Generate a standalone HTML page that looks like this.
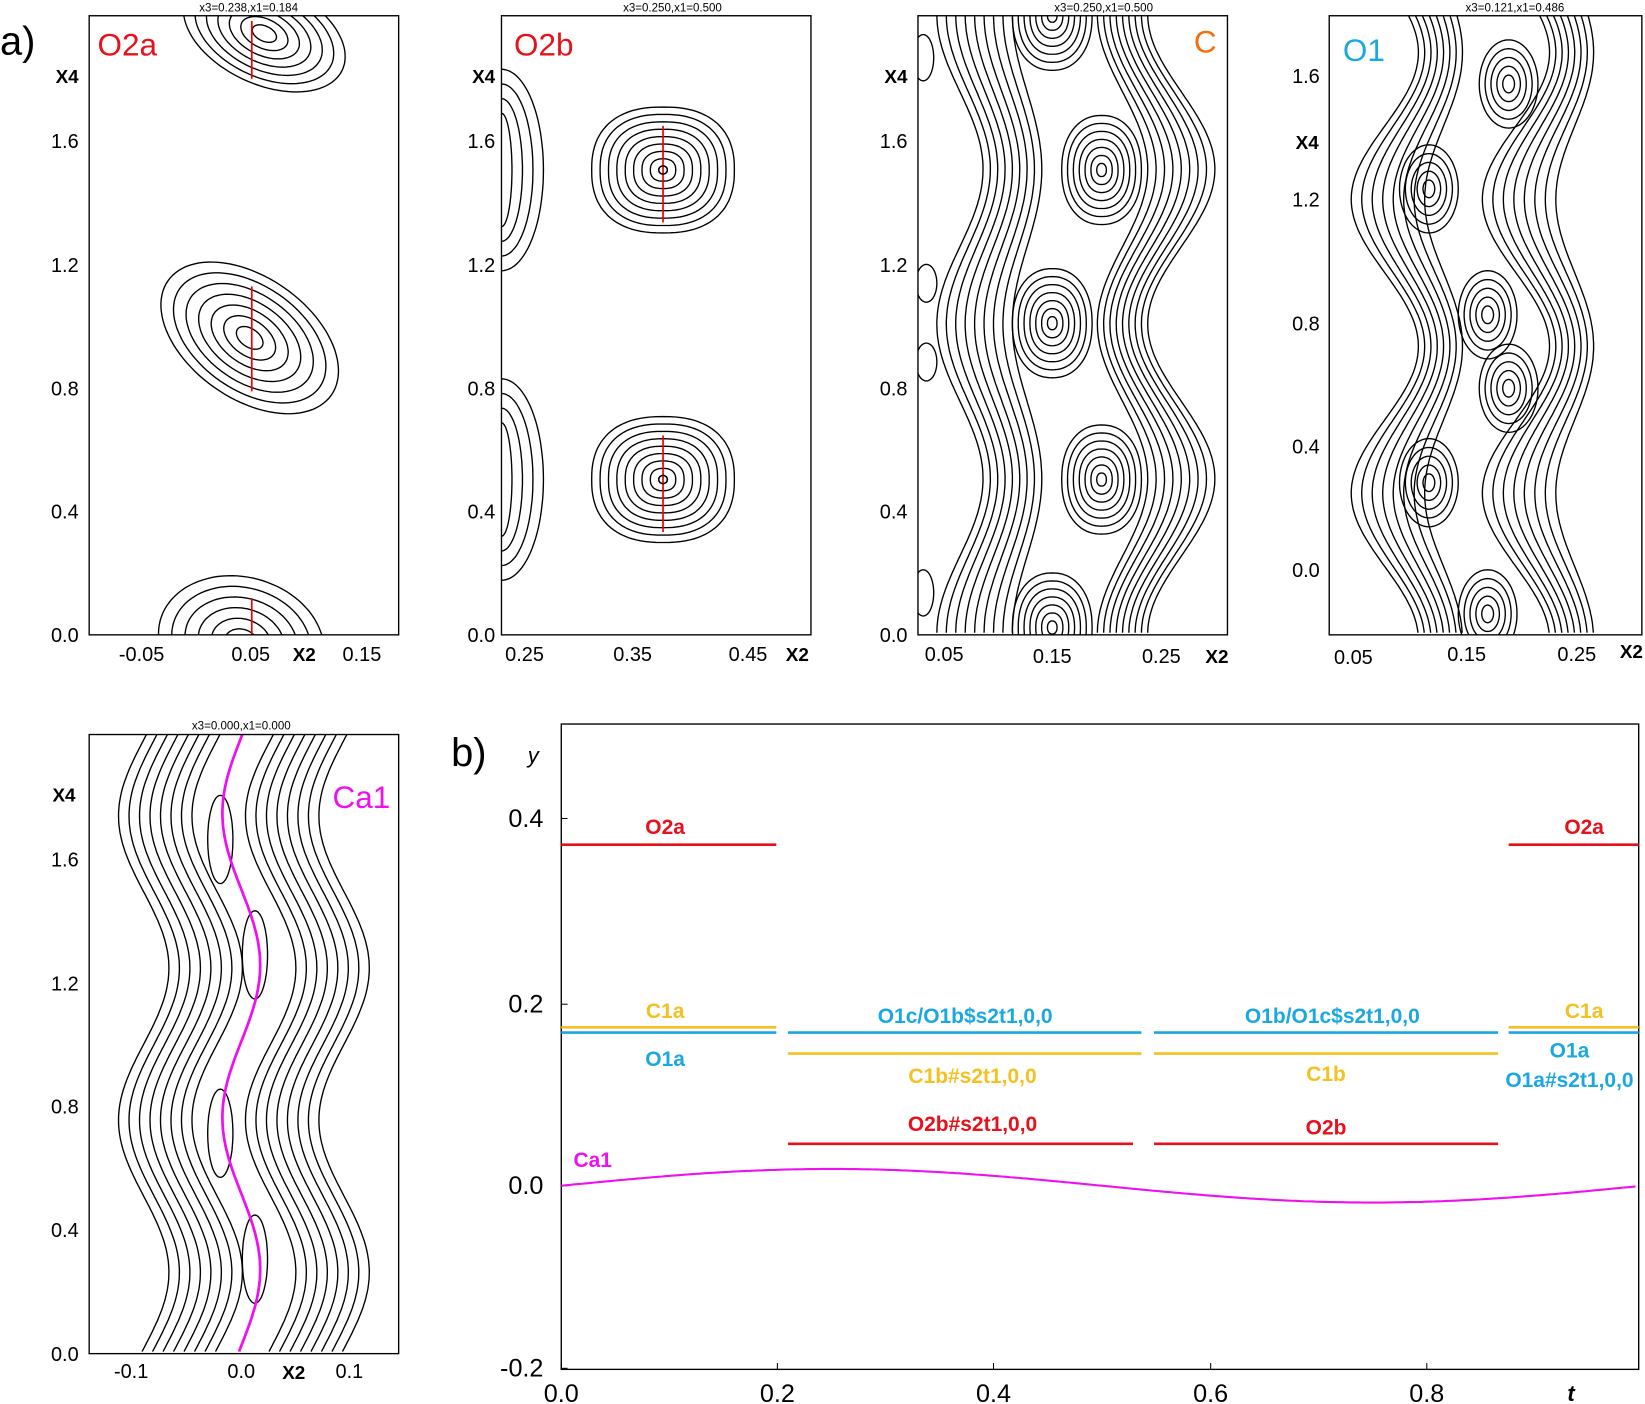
<!DOCTYPE html>
<html><head><meta charset="utf-8">
<style>html,body{margin:0;padding:0;background:#fff}svg{display:block}
text{font-family:"Liberation Sans",sans-serif}</style></head>
<body>
<svg id="s" width="1645" height="1404" viewBox="0 0 1568 1338" preserveAspectRatio="none" xmlns="http://www.w3.org/2000/svg">
<defs>
<clipPath id="c1"><rect x="85" y="15" width="295" height="590"/></clipPath>
<clipPath id="c2"><rect x="478" y="15" width="295" height="590"/></clipPath>
<clipPath id="c3"><rect x="875" y="15" width="295" height="590"/></clipPath>
<clipPath id="c4"><rect x="1267" y="15" width="298" height="590"/></clipPath>
<clipPath id="c5"><rect x="85" y="700" width="295" height="590"/></clipPath>
</defs>
<g id="g1" clip-path="url(#c1)" fill="none" stroke="#000" stroke-width="1.3"></g>
<g id="g2" clip-path="url(#c2)" fill="none" stroke="#000" stroke-width="1.3"></g>
<g id="g3" clip-path="url(#c3)" fill="none" stroke="#000" stroke-width="1.3"></g>
<g id="g4" clip-path="url(#c4)" fill="none" stroke="#000" stroke-width="1.3"></g>
<g id="g5" clip-path="url(#c5)" fill="none" stroke="#000" stroke-width="1.3"></g>
<g fill="none" stroke="#000" stroke-width="1.3">
<rect x="85" y="15" width="295" height="590"/>
<rect x="478" y="15" width="295" height="590"/>
<rect x="875" y="15" width="295" height="590"/>
<rect x="1267" y="15" width="298" height="590"/>
<rect x="85" y="700" width="295" height="590"/>
<rect x="535" y="690" width="1027" height="615"/>
</g>
<g fill="#000" font-size="19">
<text x="0" y="52" font-size="38">a)</text>
<text x="430" y="730" font-size="38">b)</text>
</g>
<g font-size="11" text-anchor="middle" fill="#000">
<text x="237" y="11">x3=0.238,x1=0.184</text>
<text x="641" y="11">x3=0.250,x1=0.500</text>
<text x="1052" y="11">x3=0.250,x1=0.500</text>
<text x="1444" y="11">x3=0.121,x1=0.486</text>
<text x="230" y="695">x3=0.000,x1=0.000</text>
</g>
<g font-size="30">
<text x="93" y="53" fill="#e8101a">O2a</text>
<text x="490" y="53" fill="#e8101a">O2b</text>
<text x="1138" y="50" fill="#f07010">C</text>
<text x="1280" y="58" fill="#1aa8e0">O1</text>
<text x="317" y="770" fill="#ee10ee">Ca1</text>
</g>
<g id="ticks" font-size="19" fill="#000"></g>
<g id="pb"></g>
<g font-size="20" font-weight="bold" text-anchor="middle">
<text x="634" y="795" fill="#e8101a">O2a</text>
<text x="1510" y="795" fill="#e8101a">O2a</text>
<text x="634" y="970" fill="#f5c020">C1a</text>
<text x="1510" y="970" fill="#f5c020">C1a</text>
<text x="634" y="1016" fill="#1aa8e0">O1a</text>
<text x="1496" y="1008" fill="#1aa8e0">O1a</text>
<text x="1496" y="1036" fill="#1aa8e0">O1a#s2t1,0,0</text>
<text x="920" y="975" fill="#1aa8e0">O1c/O1b$s2t1,0,0</text>
<text x="1270" y="975" fill="#1aa8e0">O1b/O1c$s2t1,0,0</text>
<text x="927" y="1032" fill="#f5c020">C1b#s2t1,0,0</text>
<text x="1264" y="1030" fill="#f5c020">C1b</text>
<text x="927" y="1078" fill="#e8101a">O2b#s2t1,0,0</text>
<text x="1264" y="1081" fill="#e8101a">O2b</text>
<text x="565" y="1112" fill="#ee10ee">Ca1</text>
</g>
<g font-size="21" font-style="italic" fill="#000">
<text x="503" y="727">y</text><text x="1494" y="1335" font-weight="bold">t</text>
</g>
</svg>
<script>
var NS="http://www.w3.org/2000/svg";
function el(p,tag,a,txt){var e=document.createElementNS(NS,tag);for(var k in a)e.setAttribute(k,a[k]);if(txt!==undefined)e.textContent=txt;document.getElementById(p).appendChild(e);return e;}
function path(p,pts,closed,extra){var d="M"+pts.map(function(q){return q[0].toFixed(1)+","+q[1].toFixed(1)}).join("L")+(closed?"Z":"");var a={d:d};for(var k in extra)a[k]=extra[k];return el(p,"path",a);}
function blob(g,cx,cy,rx,ry,rot,sq){var pts=[];for(var i=0;i<100;i++){var t=i/100*2*Math.PI;var c=Math.cos(t),s=Math.sin(t);var k=sq||2;var x=Math.sign(c)*Math.pow(Math.abs(c),2/k)*rx,y=Math.sign(s)*Math.pow(Math.abs(s),2/k)*ry;var r=rot*Math.PI/180;pts.push([cx+x*Math.cos(r)-y*Math.sin(r),cy+x*Math.sin(r)+y*Math.cos(r)]);}path(g,pts,true);}
function nest(g,cx,cy,rx,ry,rot,n,sq,min){for(var i=0;i<n;i++){var f=(min||0.12)+(1-(min||0.12))*(i/(n-1));blob(g,cx,cy,rx*f,ry*f,rot,sq);}}
function wave(g,x0,A,P,ph,y0,y1){var pts=[];for(var y=y0;y<=y1;y+=3){pts.push([x0+A*Math.sin(2*Math.PI*(y-ph)/P),y]);}path(g,pts,false);}
// panel 1
nest("g1",238,322,95,58,35,7,2,0.15);
nest("g1",252,32,82,48,25,7,2,0.15);
nest("g1",230,612,80,62,15,6,2,0.2);
path("g1",[[240,273],[240,373]],false,{stroke:"#e00",'stroke-width':1.6});
path("g1",[[240,20],[240,75]],false,{stroke:"#e00",'stroke-width':1.6});
path("g1",[[240,570],[240,605]],false,{stroke:"#e00",'stroke-width':1.6});
// panel 2
[162,457].forEach(function(cy){nest("g2",632,cy,68,60,0,9,2.4,0.06);path("g2",[[632,cy-42],[632,cy+50]],false,{stroke:"#e00",'stroke-width':1.6});blob("g2",632,cy,4,4,0);
 for(var i=1;i<=4;i++)blob("g2",478,cy,10*i,40+i*14,0);});
// panel 3 C
for(var i=0;i<9;i++){wave("g3",915+i*8,-22+i*1,295,235,15,605);}
for(var i=0;i<9;i++){wave("g3",1070+i*7,-24-i*1,295,235,15,605);}
[[1003,308],[1050,162],[1050,457],[1003,15],[1003,598]].forEach(function(c){nest("g3",c[0],c[1],38,52,0,7,2.2,0.12);});
blob("g3",883,270,10,18,0);blob("g3",883,345,10,18,0);blob("g3",880,55,10,22,0);blob("g3",880,565,10,22,0);
// panel 4 O1
for(var i=0;i<8;i++){wave("g4",1320+i*8,-32+i*2,280,400,15,605);}
for(var i=0;i<8;i++){wave("g4",1445+i*8,-32+i*2,280,400,15,605);}
[[1362,180],[1362,460],[1438,80],[1438,370],[1418,300],[1418,585]].forEach(function(c){nest("g4",c[0],c[1],28,42,0,5,2,0.2);});
// panel 5 Ca1
for(var i=0;i<8;i++){wave("g5",137+i*10,-24,290,995,700,1290);}
for(var i=0;i<8;i++){wave("g5",258+i*10,-24,290,995,700,1290);}
[[210,800],[243,910],[210,1080],[243,1200]].forEach(function(c){blob("g5",c[0],c[1],12,42,0);});
var mp=[];for(var y=700;y<=1290;y+=3)mp.push([230-18*Math.cos(2*Math.PI*(y-1065)/290),y]);path("g5",mp,false,{stroke:"#ee10ee",'stroke-width':2.6});
// ticks
function tk(x,y,s,anchor){el("ticks","text",{x:x,y:y,'text-anchor':anchor||"middle"},s);}
function ylab(xr,arr){arr.forEach(function(a){tk(xr,a[1]+7,a[0],"end");});}
ylab(75,[["0.0",605],["0.4",487],["0.8",370],["1.2",252],["1.6",134]]);
ylab(472,[["0.0",605],["0.4",487],["0.8",370],["1.2",252],["1.6",134]]);
ylab(865,[["0.0",605],["0.4",487],["0.8",370],["1.2",252],["1.6",134]]);
ylab(1258,[["0.0",543],["0.4",425],["0.8",308],["1.2",190],["1.6",72]]);
ylab(75,[["0.0",1290],["0.4",1172],["0.8",1054],["1.2",937],["1.6",819]]);
[[64,72],[461,72],[854,72],[1246,135],[61,757]].forEach(function(a){el("ticks","text",{x:a[0],y:a[1]+7,'text-anchor':"middle",'font-weight':"bold",'font-size':18},"X4");});
[[290,630],[760,630],[1160,632],[1555,627],[280,1314]].forEach(function(a){el("ticks","text",{x:a[0],y:a[1],'text-anchor':"middle",'font-weight':"bold",'font-size':18},"X2");});
[["-0.05",135,630],["0.05",239,630],["0.15",345,630],["0.25",500,630],["0.35",603,630],["0.45",713,630],["0.05",900,630],["0.15",1003,632],["0.25",1107,632],["0.05",1290,633],["0.15",1398,630],["0.25",1503,630],["-0.1",125,1313],["0.0",230,1313],["0.1",333,1313]].forEach(function(a){tk(a[1],a[2],a[0]);});
// panel b
var yt=[["0.4",780],["0.2",957],["0.0",1130],["-0.2",1304]];
yt.forEach(function(a){el("ticks","text",{x:518,y:a[1]+8,'text-anchor':"end",'font-size':24},a[0]);path("pb",[[535,a[1]],[541,a[1]]],false,{stroke:"#000"});});
[["0.0",535],["0.2",741],["0.4",947],["0.6",1154],["0.8",1360]].forEach(function(a){el("ticks","text",{x:a[1],y:1336,'text-anchor':"middle",'font-size':24},a[0]);path("pb",[[a[1],1305],[a[1],1299]],false,{stroke:"#000"});});
function hl(x0,x1,y,c){path("pb",[[x0,y],[x1,y]],false,{stroke:c,'stroke-width':2.5});}
var R="#e8101a",G="#f5c020",B="#1aa8e0";
hl(535,740,805,R);hl(1438,1562,805,R);
hl(535,740,979,G);hl(535,740,984,B);hl(1438,1562,979,G);hl(1438,1562,984,B);
hl(751,1088,984,B);hl(1100,1428,984,B);hl(751,1088,1004,G);hl(1100,1428,1004,G);
hl(751,1080,1090,R);hl(1100,1428,1090,R);
var cp=[];for(var x=535;x<=1562;x+=4){var t=(x-535)/1031;cp.push([x,1130-16*Math.sin(2*Math.PI*t)]);}path("pb",cp,false,{stroke:"#ee10ee",'stroke-width':2,fill:"none"});
</script>
</body></html>
